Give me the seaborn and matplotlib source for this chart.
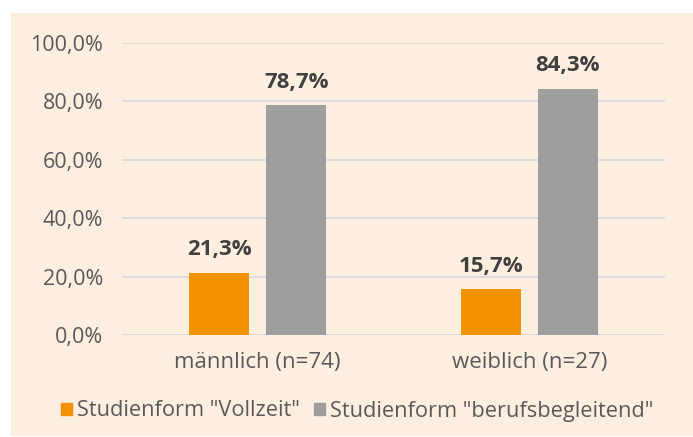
import numpy as np
import pandas as pd
import matplotlib
matplotlib.use("Agg")
import matplotlib.pyplot as plt
from matplotlib.patches import Rectangle
from matplotlib.ticker import FuncFormatter
import seaborn as sns

sns.set_style("white")
plt.rcParams["font.family"] = ["Open Sans", "DejaVu Sans"]

groups = ["männlich (n=74)", "weiblich (n=27)"]
forms = ['Studienform "Vollzeit"', 'Studienform "berufsbegleitend"']
vollzeit = [21.3, 15.7]
berufsbegleitend = [78.7, 84.3]

df = pd.DataFrame({
    "Gruppe": groups * 2,
    "Form": [forms[0]] * 2 + [forms[1]] * 2,
    "Anteil": vollzeit + berufsbegleitend,
})

colors = ["#F39200", "#9E9E9E"]
bg = "#FDEFDF"

fig = plt.figure(figsize=(6.93, 4.37), dpi=100)
fig.patches.append(Rectangle((11 / 693, 1 - 436 / 437), 682 / 693, 423 / 437,
                             transform=fig.transFigure, facecolor=bg, edgecolor="none", zorder=-5))
ax = fig.add_axes([122 / 693, 1 - 335 / 437, 543 / 693, 292 / 437])
ax.set_facecolor("none")

sns.barplot(data=df, x="Gruppe", y="Anteil", hue="Form", palette=colors,
            width=0.567, gap=0.22, ax=ax, legend=False, saturation=1, linewidth=0)

ax.set_ylim(0, 100)
ax.set_yticks(np.arange(0, 101, 20))
ax.yaxis.set_major_formatter(FuncFormatter(lambda v, p: f"{v:.1f}%".replace(".", ",")))
ax.grid(axis="y", color="#D9D9D9", linewidth=1.3)
ax.set_axisbelow(True)
for s in ax.spines.values():
    s.set_visible(False)
ax.tick_params(axis="y", length=0, labelsize=15.5, colors="#595959", pad=13.5)
ax.tick_params(axis="x", length=0, labelsize=16, colors="#595959", pad=12)
ax.set_xlabel("")
ax.set_ylabel("")

for rect in ax.patches:
    h = rect.get_height()
    if h > 0:
        ax.annotate(f"{h:.1f}%".replace(".", ","), (rect.get_x() + rect.get_width() / 2, h),
                    xytext=(0, 16.5), textcoords="offset points", ha="center", va="center",
                    fontsize=16, fontweight="bold", color="#404040")

handles = [Rectangle((0, 0), 1, 1, color=c) for c in colors]
fig.legend(handles, forms, loc="center", bbox_to_anchor=(0.515, 1 - 411 / 437), ncol=2,
           frameon=False, fontsize=15.7, handlelength=0.5, handleheight=0.5,
           handletextpad=0.23, columnspacing=0.64, labelcolor="#595959")

fig.savefig("out.png", dpi=100, facecolor="white")
